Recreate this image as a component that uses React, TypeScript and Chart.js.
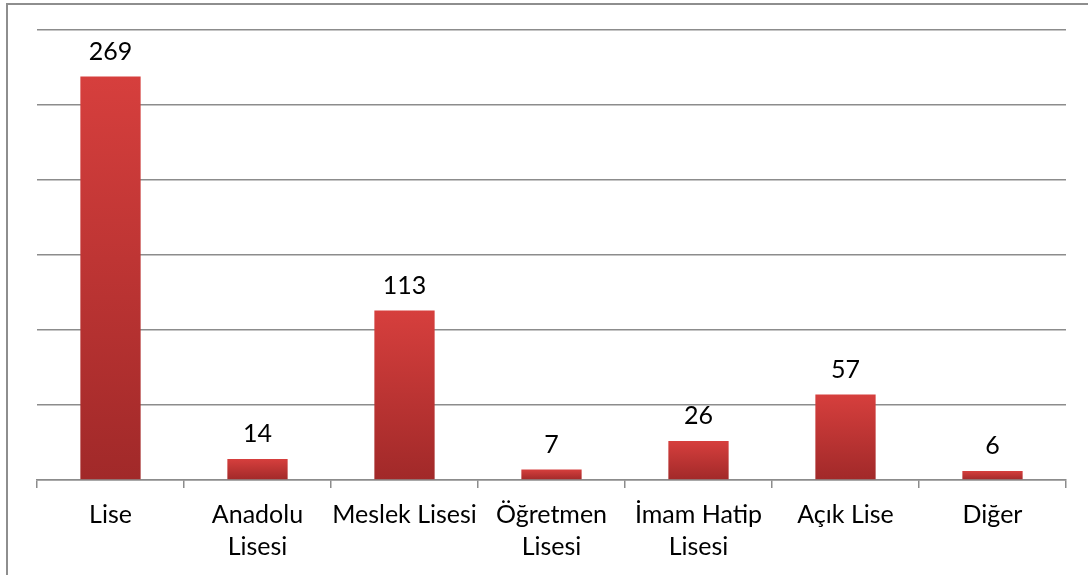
import React, { useEffect, useRef } from "react";
import { Chart, registerables } from "chart.js";

Chart.register(...registerables);

const categories: (string | string[])[] = [
  "Lise",
  ["Anadolu", "Lisesi"],
  "Meslek Lisesi",
  ["Öğretmen", "Lisesi"],
  ["İmam Hatip", "Lisesi"],
  "Açık Lise",
  "Diğer",
];
const values: number[] = [269, 14, 113, 7, 26, 57, 6];
const yMax = 300;
const yStep = 50;

const FONT = "Lato, 'Noto Sans', sans-serif";
const GRID = "#8c8c8c";

const valueLabels = {
  id: "valueLabels",
  afterDatasetsDraw(chart: any) {
    const { ctx } = chart;
    const meta = chart.getDatasetMeta(0);
    ctx.save();
    ctx.font = `25px ${FONT}`;
    ctx.fillStyle = "#000";
    ctx.textAlign = "center";
    ctx.textBaseline = "alphabetic";
    meta.data.forEach((bar: any, i: number) => {
      ctx.fillText(String(values[i]), bar.x, bar.y - 17);
    });
    ctx.restore();
  },
};

export default function App() {
  const ref = useRef<HTMLCanvasElement | null>(null);
  useEffect(() => {
    if (!ref.current) return;
    const chart = new Chart(ref.current, {
      type: "bar",
      data: {
        labels: categories,
        datasets: [
          {
            data: values,
            backgroundColor: (c: any) => {
              const ch = c.chart;
              const { ctx, chartArea, scales } = ch;
              if (!chartArea || !scales.y || c.raw === undefined) return "#c33a38";
              const top = scales.y.getPixelForValue(c.raw);
              const base = scales.y.getPixelForValue(0);
              const g = ctx.createLinearGradient(0, top, 0, base);
              g.addColorStop(0, "#d63f3d");
              g.addColorStop(1, "#a12929");
              return g;
            },
            borderWidth: 0,
            barPercentage: 0.82,
            categoryPercentage: 0.5,
          },
        ],
      },
      options: {
        animation: false,
        responsive: false,
        maintainAspectRatio: false,
        layout: { padding: { left: 37, right: 22, top: 30, bottom: 1 } },
        plugins: {
          legend: { display: false },
          tooltip: { enabled: false },
        },
        scales: {
          x: {
            grid: {
              display: true,
              drawOnChartArea: false,
              drawTicks: true,
              tickLength: 8,
              offset: true,
              color: GRID,
              lineWidth: 1.5,
            },
            border: { display: true, color: GRID, width: 1.5 },
            ticks: {
              color: "#000",
              font: { family: FONT, size: 25, lineHeight: 1.28 },
              padding: 11,
              maxRotation: 0,
              autoSkip: false,
            },
          },
          y: {
            min: 0,
            max: yMax,
            ticks: { display: false, stepSize: yStep },
            grid: { color: GRID, lineWidth: 1.5, drawTicks: false },
            border: { display: false },
          },
        },
      },
      plugins: [valueLabels],
    });
    return () => chart.destroy();
  }, []);
  return (
    <div style={{ position: "fixed", left: 0, top: 0, width: 1088, height: 575, background: "#fff", overflow: "hidden" }}>
      <div
        style={{
          position: "absolute",
          left: 6,
          top: 3,
          width: 1200,
          height: 700,
          borderLeft: "2px solid #8e8e8e",
          borderTop: "2px solid #8e8e8e",
          boxSizing: "border-box",
        }}
      />
      <canvas ref={ref} width={1088} height={575} style={{ position: "absolute", left: 0, top: 0, width: 1088, height: 575 }} />
    </div>
  );
}
